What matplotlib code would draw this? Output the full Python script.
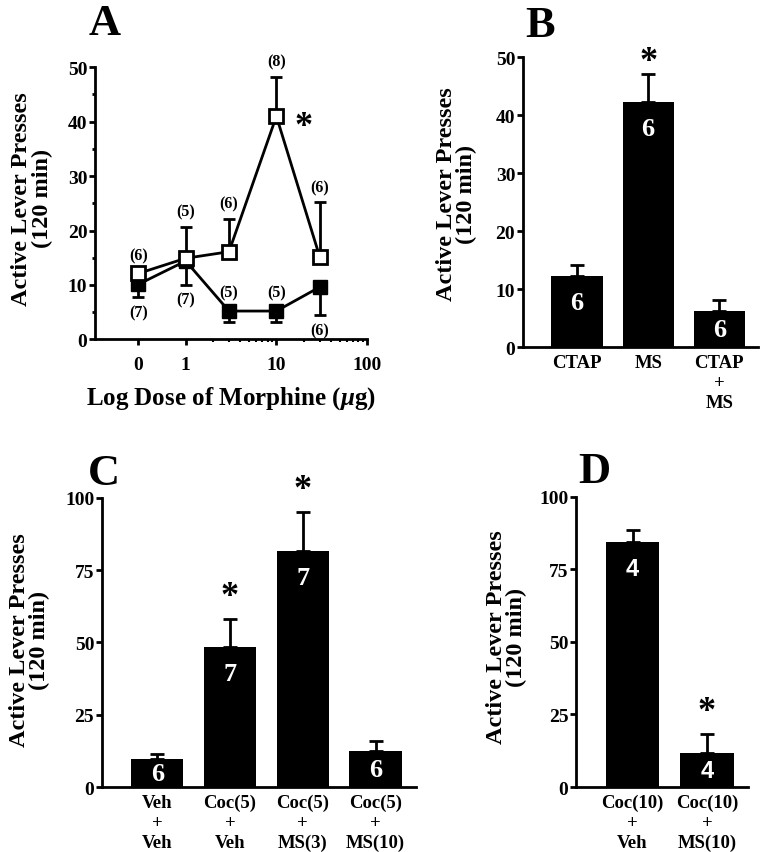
import matplotlib.pyplot as plt
from matplotlib.ticker import FixedLocator, NullFormatter

plt.rcParams['font.family'] = ['Liberation Serif', 'DejaVu Serif']
plt.rcParams['font.weight'] = 'bold'
plt.rcParams['mathtext.fontset'] = 'custom'
plt.rcParams['mathtext.it'] = 'Liberation Serif:italic:bold'
plt.rcParams['mathtext.rm'] = 'Liberation Serif:bold'

# Panel A: dose-response ("0" dose drawn at 0.3 on the log axis)
dose_pos = [0.3, 1, 3, 10, 30]
dose_ticks = [0.3, 1, 10, 100]
dose_tick_labels = ['0', '1', '10', '100']
open_mean = [12.1, 14.9, 16.1, 41.0, 15.2]
open_err = [0.6, 5.8, 6.1, 7.2, 10.0]
open_n = ['(6)', '(5)', '(6)', '(8)', '(6)']
filled_mean = [10.1, 14.4, 5.2, 5.2, 9.6]
filled_err = [2.4, 4.4, 2.1, 2.1, 5.2]
filled_n = ['(7)', '(7)', '(5)', '(5)', '(6)']
filled_n_side = ['below', 'below', 'above', 'above', 'below']

# Panel B
b_labels = ['CTAP', 'MS', 'CTAP\n+\nMS']
b_mean = [12.2, 42.2, 6.2]
b_err = [1.9, 4.8, 1.9]
b_n = ['6', '6', '6']
b_star = [False, True, False]

# Panel C
c_labels = ['Veh\n+\nVeh', 'Coc(5)\n+\nVeh', 'Coc(5)\n+\nMS(3)', 'Coc(5)\n+\nMS(10)']
c_mean = [9.6, 48.3, 81.5, 12.3]
c_err = [1.9, 9.7, 13.5, 3.7]
c_n = ['6', '7', '7', '6']
c_star = [False, True, True, False]

# Panel D
d_labels = ['Coc(10)\n+\nVeh', 'Coc(10)\n+\nMS(10)']
d_mean = [84.5, 11.8]
d_err = [4.0, 6.6]
d_n = ['4', '4']
d_star = [False, True]

LW = 2.0
YLABEL = 'Active Lever Presses\n(120 min)'


def estilo_ejes(ax):
    for lado in ['top', 'right']:
        ax.spines[lado].set_visible(False)
    for lado in ['left', 'bottom']:
        ax.spines[lado].set_linewidth(LW)
    ax.tick_params(axis='y', which='major', direction='out', length=4, width=LW,
                   labelsize=14, pad=1.5)
    ax.set_ylabel(YLABEL, fontsize=17.5, fontweight='bold', linespacing=0.95)


def graficar_barras(ax, etiquetas, medias, errores, ns, estrellas, ymax,
                    off_estrella, num_family=None):
    x = list(range(len(medias)))
    ax.bar(x, medias, width=0.72, color='black')
    ax.errorbar(x, medias, yerr=[[0] * len(medias), errores], fmt='none',
                ecolor='black', elinewidth=LW, capsize=5, capthick=LW)
    for xi, m, e, n, s in zip(x, medias, errores, ns, estrellas):
        y_num = max(m - 0.09 * ymax, 0.48 * m)
        ax.text(xi, y_num, n, color='white', ha='center', va='center',
                fontsize=19 if num_family is None else 17, fontweight='bold',
                family=num_family if num_family else None)
        if s:
            ax.annotate('*', xy=(xi, m + e), xytext=(0, off_estrella),
                        textcoords='offset points', ha='center', va='baseline',
                        fontsize=26, fontweight='bold', annotation_clip=False)
    ax.set_xlim(-0.76, len(medias) - 0.45)
    ax.set_ylim(0, ymax)
    ax.set_xticks(x)
    ax.set_xticklabels(etiquetas, fontsize=13.5, fontweight='bold', linespacing=1.22)
    ax.tick_params(axis='x', length=0, pad=5)
    estilo_ejes(ax)


fig = plt.figure(figsize=(7.6, 8.53), dpi=100)

# ---- A ----
axA = fig.add_axes([0.125, 0.601, 0.358, 0.319])
axA.set_xscale('log')
axA.plot(dose_pos, filled_mean, color='black', lw=LW, zorder=2)
axA.errorbar(dose_pos, filled_mean, yerr=[filled_err, [0] * 5], fmt='s',
             color='black', ms=9.5, elinewidth=LW, capsize=4, capthick=LW, zorder=3)
axA.plot(dose_pos, open_mean, color='black', lw=LW, zorder=2)
axA.errorbar(dose_pos, open_mean, yerr=[[0] * 5, open_err], fmt='s',
             mfc='white', mec='black', mew=LW, color='black', ms=9.5,
             elinewidth=LW, capsize=4, capthick=LW, zorder=4)
for xd, m, e, n in zip(dose_pos, open_mean, open_err, open_n):
    axA.annotate(n, xy=(xd, m + e), xytext=(0, 11), textcoords='offset points',
                 ha='center', va='center', fontsize=11.5, fontweight='bold')
for xd, m, e, n, lado in zip(dose_pos, filled_mean, filled_err, filled_n, filled_n_side):
    if lado == 'above':
        axA.annotate(n, xy=(xd, m), xytext=(0, 13.5), textcoords='offset points',
                     ha='center', va='center', fontsize=11.5, fontweight='bold')
    else:
        axA.annotate(n, xy=(xd, m - e), xytext=(0, -10.5), textcoords='offset points',
                     ha='center', va='center', fontsize=11.5, fontweight='bold')
axA.text(20, 37.5, '*', ha='center', va='baseline', fontsize=26, fontweight='bold')
axA.set_xlim(0.1, 100)
axA.set_ylim(0, 50)
axA.set_yticks([0, 10, 20, 30, 40, 50])
axA.yaxis.set_minor_locator(FixedLocator([5, 15, 25, 35, 45]))
axA.tick_params(axis='y', which='minor', direction='out', length=2, width=LW)
axA.xaxis.set_major_locator(FixedLocator(dose_ticks))
axA.set_xticklabels(dose_tick_labels, fontsize=14, fontweight='bold')
menores = [k * d for d in [1, 10] for k in range(2, 10)]
axA.xaxis.set_minor_locator(FixedLocator(menores))
axA.xaxis.set_minor_formatter(NullFormatter())
axA.tick_params(axis='x', which='major', direction='out', length=4, width=LW, pad=8)
axA.tick_params(axis='x', which='minor', direction='out', length=2.5, width=1.5)
estilo_ejes(axA)
axA.set_xlabel(r'Log Dose of Morphine ($\mu$g)', fontsize=18, fontweight='bold',
               labelpad=8)
axA.yaxis.set_label_coords(-0.155, 0.52)

# ---- B ----
axB = fig.add_axes([0.688, 0.592, 0.31, 0.340])
graficar_barras(axB, b_labels, b_mean, b_err, b_n, b_star, 50, 3)
axB.set_yticks([0, 10, 20, 30, 40, 50])
axB.yaxis.set_label_coords(-0.195, 0.53)

# ---- C ----
axC = fig.add_axes([0.134, 0.0762, 0.413, 0.339])
graficar_barras(axC, c_labels, c_mean, c_err, c_n, c_star, 100, 10)
axC.set_yticks([0, 25, 50, 75, 100])
axC.yaxis.set_label_coords(-0.165, 0.51)

# ---- D ----
axD = fig.add_axes([0.758, 0.0762, 0.226, 0.340])
graficar_barras(axD, d_labels, d_mean, d_err, d_n, d_star, 100, 10,
                num_family='Liberation Sans')
axD.set_yticks([0, 25, 50, 75, 100])
axD.yaxis.set_label_coords(-0.285, 0.52)

# panel letters
for letra, xf, yb in [('A', 105, 35), ('B', 540, 37), ('C', 104, 485), ('D', 594, 483)]:
    fig.text(xf / 760, 1 - yb / 853, letra, fontsize=32, fontweight='bold',
             ha='center', va='baseline')

fig.savefig('out.png', dpi=100)
